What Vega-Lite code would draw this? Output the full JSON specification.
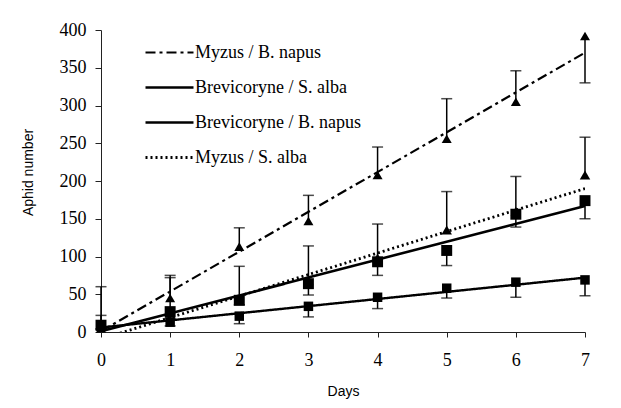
{
  "$schema": "https://vega.github.io/schema/vega-lite/v6.json",
  "width": 484,
  "height": 302,
  "autosize": {"type": "none"},
  "padding": {"left": 101, "top": 30, "right": 36, "bottom": 76},
  "background": "white",
  "config": {
    "view": {"stroke": null},
    "axis": {
      "grid": false,
      "labelFont": "Liberation Serif",
      "labelFontSize": 18,
      "labelColor": "black",
      "labelOverlap": false,
      "titleFont": "Liberation Sans",
      "titleFontSize": 14,
      "titleFontWeight": "normal",
      "titleColor": "black",
      "domainColor": "#222",
      "tickColor": "#222"
    },
    "axisY": {
      "values": [0, 50, 100, 150, 200, 250, 300, 350, 400],
      "labelOverlap": false,
      "labelPadding": 9,
      "labelFlush": false,
      "tickSize": 6,
      "titleX": -73,
      "titleY": 142,
      "titleBaseline": "middle",
      "titleAlign": "center"
    }
  },
  "datasets": {
    "trend": [
      {"curve": "Myzus / B. napus", "day": 0, "value": 1},
      {"curve": "Myzus / B. napus", "day": 7, "value": 370},
      {"curve": "Brevicoryne / S. alba", "day": 0, "value": 6},
      {"curve": "Brevicoryne / S. alba", "day": 7, "value": 72},
      {"curve": "Brevicoryne / B. napus", "day": 0, "value": 1},
      {"curve": "Brevicoryne / B. napus", "day": 7, "value": 167},
      {"curve": "Myzus / S. alba", "day": 0, "value": -9.4},
      {"curve": "Myzus / S. alba", "day": 7, "value": 190}
    ],
    "obs": [
      {"series": "Myzus / B. napus", "day": 0, "value": 5, "err": 22},
      {"series": "Myzus / B. napus", "day": 1, "value": 45, "err": 75},
      {"series": "Myzus / B. napus", "day": 2, "value": 113, "err": 138},
      {"series": "Myzus / B. napus", "day": 3, "value": 147, "err": 181},
      {"series": "Myzus / B. napus", "day": 4, "value": 208, "err": 245},
      {"series": "Myzus / B. napus", "day": 5, "value": 256, "err": 309},
      {"series": "Myzus / B. napus", "day": 6, "value": 305, "err": 346},
      {"series": "Myzus / B. napus", "day": 7, "value": 392, "err": 330},
      {"series": "Myzus / S. alba", "day": 0, "value": 8, "err": 60},
      {"series": "Myzus / S. alba", "day": 1, "value": 25, "err": 72},
      {"series": "Myzus / S. alba", "day": 2, "value": 42, "err": 87},
      {"series": "Myzus / S. alba", "day": 3, "value": 68, "err": 114},
      {"series": "Myzus / S. alba", "day": 4, "value": 98, "err": 143},
      {"series": "Myzus / S. alba", "day": 5, "value": 135, "err": 186},
      {"series": "Myzus / S. alba", "day": 6, "value": 160, "err": 206},
      {"series": "Myzus / S. alba", "day": 7, "value": 208, "err": 258},
      {"series": "Brevicoryne / B. napus", "day": 0, "value": 9, "err": 4},
      {"series": "Brevicoryne / B. napus", "day": 1, "value": 27, "err": 18},
      {"series": "Brevicoryne / B. napus", "day": 2, "value": 42, "err": 36},
      {"series": "Brevicoryne / B. napus", "day": 3, "value": 64, "err": 49},
      {"series": "Brevicoryne / B. napus", "day": 4, "value": 93, "err": 75},
      {"series": "Brevicoryne / B. napus", "day": 5, "value": 108, "err": 88},
      {"series": "Brevicoryne / B. napus", "day": 6, "value": 156, "err": 139},
      {"series": "Brevicoryne / B. napus", "day": 7, "value": 174, "err": 150},
      {"series": "Brevicoryne / S. alba", "day": 0, "value": 8, "err": 4},
      {"series": "Brevicoryne / S. alba", "day": 1, "value": 13, "err": 8},
      {"series": "Brevicoryne / S. alba", "day": 2, "value": 21, "err": 11},
      {"series": "Brevicoryne / S. alba", "day": 3, "value": 34, "err": 20},
      {"series": "Brevicoryne / S. alba", "day": 4, "value": 46, "err": 31},
      {"series": "Brevicoryne / S. alba", "day": 5, "value": 58, "err": 45},
      {"series": "Brevicoryne / S. alba", "day": 6, "value": 66, "err": 46},
      {"series": "Brevicoryne / S. alba", "day": 7, "value": 69, "err": 48}
    ]
  },
  "encoding": {
    "x": {
      "field": "day", "type": "quantitative",
      "scale": {"domain": [0, 7], "nice": false},
      "axis": {
        "values": [0,1,2,3,4,5,6,7], "title": "Days", "labelOverlap": false,
        "labelFont": "Liberation Serif", "labelFontSize": 18,
        "labelPadding": 14, "labelFlush": false, "titlePadding": 15, "tickSize": 5
      }
    }
  },
  "layer": [
    {
      "data": {"name": "trend"},
      "mark": {"type": "line", "clip": true, "color": "black"},
      "encoding": {
        "y": {
          "field": "value", "type": "quantitative",
          "scale": {"domain": [0, 400], "nice": false},
          "axis": {"title": "Aphid number", "values": [0, 50, 100, 150, 200, 250, 300, 350, 400], "labelOverlap": false, "labelFont": "Liberation Serif", "labelFontSize": 18}
        },
        "detail": {"field": "curve"},
        "strokeDash": {
          "field": "curve", "type": "nominal",
          "scale": {
            "domain": ["Myzus / B. napus", "Brevicoryne / S. alba", "Brevicoryne / B. napus", "Myzus / S. alba"],
            "range": [[10, 4, 3, 4], [1, 0], [1, 0], [2, 3]]
          },
          "legend": {"title": null, "orient": "none", "legendX": 43, "legendY": -3, "symbolType": "stroke", "symbolSize": 2304, "symbolStrokeColor": "black", "rowPadding": -2, "labelOffset": 0, "labelLimit": 400, "labelFont": "Liberation Serif", "labelFontSize": 18, "labelColor": "black"}
        },
        "strokeWidth": {
          "field": "curve", "type": "nominal",
          "scale": {
            "domain": ["Myzus / B. napus", "Brevicoryne / S. alba", "Brevicoryne / B. napus", "Myzus / S. alba"],
            "range": [2.2, 2.8, 1.2, 2]
          },
          "legend": {"title": null, "orient": "none", "legendX": 43, "legendY": -3, "symbolType": "stroke", "symbolSize": 2304, "symbolStrokeColor": "black", "rowPadding": -2, "labelOffset": 0, "labelLimit": 400, "labelFont": "Liberation Serif", "labelFontSize": 18, "labelColor": "black"}
        }
      }
    },
    {
      "data": {"name": "obs"},
      "mark": {"type": "rule", "color": "black", "strokeWidth": 1.5},
      "encoding": {
        "y": {"field": "value", "type": "quantitative", "axis": {"title": "Aphid number", "values": [0, 50, 100, 150, 200, 250, 300, 350, 400], "labelOverlap": false, "labelFont": "Liberation Serif", "labelFontSize": 18}},
        "y2": {"field": "err"}
      }
    },
    {
      "data": {"name": "obs"},
      "mark": {"type": "tick", "orient": "horizontal", "color": "black", "thickness": 1.5, "size": 11},
      "encoding": {
        "y": {"field": "err", "type": "quantitative", "axis": {"title": "Aphid number", "values": [0, 50, 100, 150, 200, 250, 300, 350, 400], "labelOverlap": false, "labelFont": "Liberation Serif", "labelFontSize": 18}}
      }
    },
    {
      "data": {"name": "obs"},
      "mark": {"type": "point", "filled": true, "color": "black", "opacity": 1},
      "encoding": {
        "y": {"field": "value", "type": "quantitative", "axis": {"title": "Aphid number", "values": [0, 50, 100, 150, 200, 250, 300, 350, 400], "labelOverlap": false, "labelFont": "Liberation Serif", "labelFontSize": 18}},
        "shape": {
          "field": "series", "type": "nominal",
          "scale": {
            "domain": ["Myzus / S. alba", "Brevicoryne / B. napus", "Brevicoryne / S. alba", "Myzus / B. napus"],
            "range": ["triangle-up", "square", "square", "triangle-up"]
          },
          "legend": null
        },
        "size": {
          "field": "series", "type": "nominal",
          "scale": {
            "domain": ["Brevicoryne / B. napus", "Myzus / S. alba", "Myzus / B. napus", "Brevicoryne / S. alba"],
            "range": [120, 90, 90, 120]
          },
          "legend": null
        }
      }
    }
  ]
}
